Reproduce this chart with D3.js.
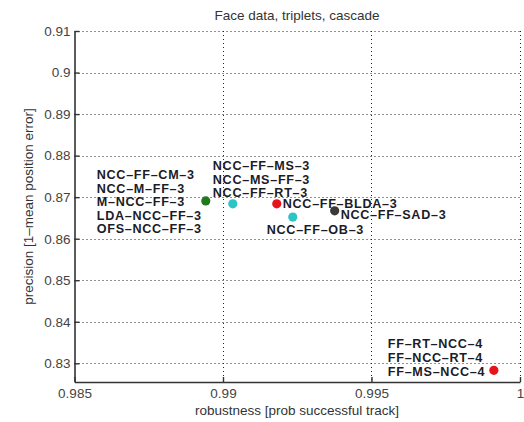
<!DOCTYPE html>
<html>
<head>
<meta charset="utf-8">
<script src="https://cdn.jsdelivr.net/npm/d3@7"></script>
<style>
  html, body { margin: 0; padding: 0; background: #fff; }
  svg { display: block; }
</style>
</head>
<body>
<svg id="chart" width="524" height="422"></svg>
<script>
// Tracker variants: robustness (x) vs. precision (y)
const methods = ["M-NCC-FF-3", "NCC-FF-MS-3", "NCC-FF-BLDA-3", "NCC-FF-OB-3", "NCC-FF-SAD-3", "FF-MS-NCC-4"];
const robustness = [0.98942, 0.99033, 0.99181, 0.99235, 0.99376, 0.99912];
const precision  = [0.8691, 0.8684, 0.8684, 0.8652, 0.8667, 0.8283];

// Method names that share each point
const pointLabels = [
  ["NCC-FF-CM-3", "NCC-M-FF-3", "M-NCC-FF-3", "LDA-NCC-FF-3", "OFS-NCC-FF-3"],
  ["NCC-FF-MS-3", "NCC-MS-FF-3", "NCC-FF-RT-3"],
  ["NCC-FF-BLDA-3"],
  ["NCC-FF-OB-3"],
  ["NCC-FF-SAD-3"],
  ["FF-RT-NCC-4", "FF-NCC-RT-4", "FF-MS-NCC-4"]
];

const xTicks = [0.985, 0.99, 0.995, 1];
const yTicks = [0.83, 0.84, 0.85, 0.86, 0.87, 0.88, 0.89, 0.9, 0.91];
const xTickLabels = ["0.985", "0.99", "0.995", "1"];
const yTickLabels = ["0.83", "0.84", "0.85", "0.86", "0.87", "0.88", "0.89", "0.9", "0.91"];

// Styling and label placement (pixel offsets from each point, first line index)
const pointColors = ["#237a1e", "#2cc4c4", "#e8121c", "#2cc4c4", "#3a3a3a", "#e8121c"];
const labelLayout = [
  { dx: -109, first: -1.95 },
  { dx: -20,  first: -2.8 },
  { dx: 6,    first: 0 },
  { dx: -26,  first: 0.9 },
  { dx: 6,    first: 0.25 },
  { dx: -106, first: -1.95 }
];

const svg = d3.select("#chart");
const plotLeft = 74.5, plotRight = 520, plotTop = 31, plotBottom = 382;

const x = d3.scaleLinear().domain([0.985, 1]).range([plotLeft, plotRight]);
const y = d3.scaleLinear().domain([0.8255, 0.91]).range([plotBottom, plotTop]);

const font = "'Liberation Sans', Arial, sans-serif";

// Dotted grid
const grid = svg.append("g").attr("stroke", "#222").attr("stroke-width", 1)
  .attr("stroke-dasharray", "1,3").attr("fill", "none");
grid.selectAll("line.gx").data(xTicks.slice(1)).join("line")
  .attr("x1", d => Math.round(x(d)) + 0.5).attr("x2", d => Math.round(x(d)) + 0.5)
  .attr("y1", plotTop).attr("y2", plotBottom);
grid.selectAll("line.gy").data(yTicks).join("line")
  .attr("x1", plotLeft).attr("x2", plotRight)
  .attr("y1", d => Math.round(y(d)) + 0.5).attr("y2", d => Math.round(y(d)) + 0.5);

// Axes (inward ticks)
const xAxis = d3.axisBottom(x).tickValues(xTicks).tickFormat((d, i) => xTickLabels[i])
  .tickSizeInner(-5).tickSizeOuter(0).tickPadding(6.5);
const yAxis = d3.axisLeft(y).tickValues(yTicks).tickFormat((d, i) => yTickLabels[i])
  .tickSizeInner(-5).tickSizeOuter(0).tickPadding(4);

const gx = svg.append("g").attr("transform", `translate(0,${plotBottom})`).call(xAxis);
const gy = svg.append("g").attr("transform", `translate(${plotLeft},0)`).call(yAxis);
[gx, gy].forEach(g => {
  g.select(".domain").attr("stroke", "#333").attr("stroke-width", 1.6);
  g.selectAll(".tick line").attr("stroke", "#333").attr("stroke-width", 1.4);
  g.selectAll(".tick text").attr("font-family", font).attr("font-size", 13.5).attr("fill", "#444");
});

// Title and axis labels
svg.append("text").attr("x", 297).attr("y", 19.5).attr("text-anchor", "middle")
  .attr("font-family", font).attr("font-size", 13.5).attr("fill", "#333")
  .text("Face data, triplets, cascade");
svg.append("text").attr("x", 297).attr("y", 415).attr("text-anchor", "middle")
  .attr("font-family", font).attr("font-size", 13.5).attr("fill", "#333")
  .text("robustness [prob successful track]");
svg.append("text").attr("transform", `translate(33,${(plotTop + plotBottom) / 2}) rotate(-90)`)
  .attr("text-anchor", "middle").attr("font-family", font).attr("font-size", 13.5).attr("fill", "#333")
  .text("precision [1\u2013mean position error]");

// Points
svg.append("g").selectAll("circle").data(methods).join("circle")
  .attr("cx", (d, i) => x(robustness[i]))
  .attr("cy", (d, i) => y(precision[i]))
  .attr("r", 4.6)
  .attr("fill", (d, i) => pointColors[i]);

// Method labels
const lineH = 13.6;
const lab = svg.append("g").attr("font-family", font).attr("font-weight", "bold")
  .attr("font-size", 12.6).attr("fill", "#1c1c28").attr("letter-spacing", 0.7);
pointLabels.forEach((lines, i) => {
  const px = x(robustness[i]), py = y(precision[i]);
  const L = labelLayout[i];
  lines.forEach((t, k) => {
    lab.append("text")
      .attr("x", px + L.dx)
      .attr("y", py + (L.first + k) * lineH)
      .attr("dy", "0.36em")
      .attr("text-anchor", "start")
      .text(t.replace(/-/g, "\u2013"));
  });
});
</script>
</body>
</html>
